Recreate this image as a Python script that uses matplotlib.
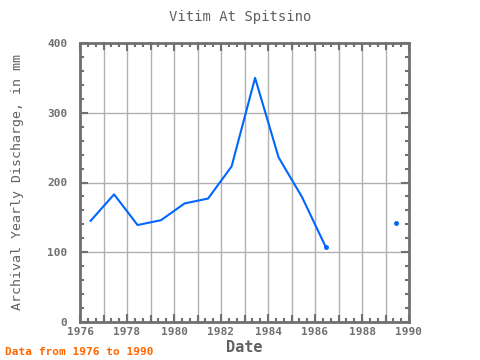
import numpy as np
import matplotlib
matplotlib.use("Agg")
import matplotlib.pyplot as plt
from matplotlib.ticker import MultipleLocator

years = [1976.45, 1977.45, 1978.45, 1979.45, 1980.45, 1981.45, 1982.45, 1983.45,
         1984.45, 1985.45, 1986.45, 1987.45, 1988.45, 1989.45]
discharge = [145, 183, 139, 146, 170, 177, 223, 350, 236, 179, 108,
             np.nan, np.nan, 142]

title = "Vitim At Spitsino"
xlabel = "Date"
ylabel = "Archival Yearly Discharge, in mm"
note = "Data from 1976 to 1990"

font = "DejaVu Sans Mono"
gray = "#707070"

fig = plt.figure(figsize=(4.8, 3.6), dpi=100)
ax = fig.add_axes([80/480, 1-322/360, (409-80)/480, (322-43)/360])

ax.plot(years, discharge, color="#0066ff", lw=1.5, zorder=3)
y = np.array(discharge)
x = np.array(years)
iso = []
for i in range(len(y)):
    if np.isnan(y[i]):
        continue
    prev_nan = i == 0 or np.isnan(y[i-1])
    next_nan = i == len(y)-1 or np.isnan(y[i+1])
    if i > 0 and (prev_nan or next_nan):
        iso.append(i)
ax.plot(x[iso], y[iso], 'o', color="#0066ff", ms=2.5, zorder=3)

ax.set_xlim(1976, 1990)
ax.set_ylim(0, 400)
ax.xaxis.set_major_locator(MultipleLocator(2))
ax.xaxis.set_minor_locator(MultipleLocator(1/3))
ax.yaxis.set_major_locator(MultipleLocator(100))
ax.yaxis.set_minor_locator(MultipleLocator(20))

for yr in range(1977, 1990):
    ax.axvline(yr, color="#b0b0b0", lw=1, zorder=1)
for v in range(100, 400, 100):
    ax.axhline(v, color="#b0b0b0", lw=1, zorder=1)

ax.tick_params(which="both", direction="in", top=True, right=True, colors=gray,
               labelcolor=gray, width=1.5)
ax.tick_params(which="major", length=6, labelsize=8)
ax.tick_params(axis="y", which="major", pad=9)
ax.tick_params(which="minor", length=3)
for yr in range(1977, 1990, 2):
    ax.plot([yr, yr], [0, 400*6/279], color=gray, lw=1.5, clip_on=False, zorder=4)
    ax.plot([yr, yr], [400, 400-400*6/279], color=gray, lw=1.5, clip_on=False, zorder=4)

for lab in ax.get_xticklabels() + ax.get_yticklabels():
    lab.set_fontfamily(font)
    lab.set_fontweight("bold")

for s in ax.spines.values():
    s.set_color(gray)
    s.set_linewidth(2)

fig.text(0.5, 1-17/360, title, ha="center", va="center", fontsize=10,
         color="#606060", family=font)
ax.set_xlabel(xlabel, fontsize=11, color="#606060", family=font, fontweight="bold", labelpad=2)
ax.set_ylabel(ylabel, fontsize=9.5, color="#606060", family=font)
ax.yaxis.set_label_coords(-(80-24)/329, 0.5)
fig.text(5/480, 1-352/360, note, ha="left", va="center", fontsize=8,
         color="#ff6600", family=font, fontweight="bold")

fig.savefig("out.png", dpi=100)
